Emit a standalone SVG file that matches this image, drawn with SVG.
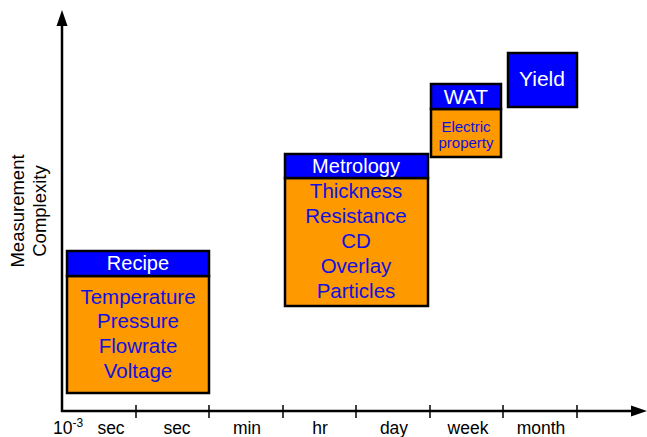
<svg xmlns="http://www.w3.org/2000/svg" width="647" height="437" viewBox="0 0 647 437">
<style>
.t{font-family:"Liberation Sans",Arial,sans-serif;text-anchor:middle}
.hd{fill:#0000FF;stroke:#000;stroke-width:2.5}
.bd{fill:#FF9900;stroke:#000;stroke-width:2.5}
.wt{fill:#fff;font-size:20px}
.bl{fill:#1010E0;font-size:20.5px}
.sm{font-size:15px}
.ax{font-size:17.5px;fill:#000}
</style>
<rect width="647" height="437" fill="#fff"/>
<g id="connectors" stroke="#000" stroke-width="2.5" fill="none">
<line x1="62" y1="412" x2="62" y2="24"/>
<line x1="61" y1="411" x2="632" y2="411"/>
<polygon points="62,10 56.5,26 67.5,26" fill="#000" stroke="none"/>
<polygon points="647,411 631,405.5 631,416.5" fill="#000" stroke="none"/>
<g stroke-width="1.5">
<line x1="136" y1="405" x2="136" y2="418"/>
<line x1="209" y1="405" x2="209" y2="418"/>
<line x1="283" y1="405" x2="283" y2="418"/>
<line x1="356" y1="405" x2="356" y2="418"/>
<line x1="430" y1="405" x2="430" y2="418"/>
<line x1="503" y1="405" x2="503" y2="418"/>
<line x1="577" y1="405" x2="577" y2="418"/>
</g>
</g>
<g id="axis-labels" class="t ax">
<text x="68" y="434">10<tspan font-size="12" dy="-7">-3</tspan></text>
<text x="111" y="434">sec</text>
<text x="177" y="434">sec</text>
<text x="247" y="434">min</text>
<text x="320" y="434">hr</text>
<text x="394" y="434">day</text>
<text x="468" y="434">week</text>
<text x="541" y="434">month</text>
<text transform="translate(24,211) rotate(-90)" font-size="18.5">Measurement</text>
<text transform="translate(46,211) rotate(-90)" font-size="18.5">Complexity</text>
</g>
<g id="recipe">
<rect class="bd" x="67" y="276" width="142" height="117"/>
<rect class="hd" x="67" y="251" width="142" height="25"/>
<text class="t wt" x="138" y="270">Recipe</text>
<text class="t bl" x="138" y="304">Temperature</text>
<text class="t bl" x="138" y="328">Pressure</text>
<text class="t bl" x="138" y="353">Flowrate</text>
<text class="t bl" x="138" y="378">Voltage</text>
</g>
<g id="metrology">
<rect class="bd" x="285" y="178" width="143" height="128"/>
<rect class="hd" x="285" y="154" width="143" height="24"/>
<text class="t wt" x="356" y="173">Metrology</text>
<text class="t bl" x="356" y="198">Thickness</text>
<text class="t bl" x="356" y="223">Resistance</text>
<text class="t bl" x="356" y="248">CD</text>
<text class="t bl" x="356" y="273">Overlay</text>
<text class="t bl" x="356" y="298">Particles</text>
</g>
<g id="wat">
<rect class="bd" x="431" y="109" width="70" height="48"/>
<rect class="hd" x="431" y="84" width="70" height="25"/>
<text class="t wt" x="466" y="104" style="font-size:21px">WAT</text>
<text class="t bl sm" x="466" y="132">Electric</text>
<text class="t bl sm" x="466" y="148">property</text>
</g>
<g id="yield">
<rect class="hd" x="508" y="53" width="69" height="54"/>
<text class="t wt" x="542" y="86" style="font-size:21px">Yield</text>
</g>
</svg>
